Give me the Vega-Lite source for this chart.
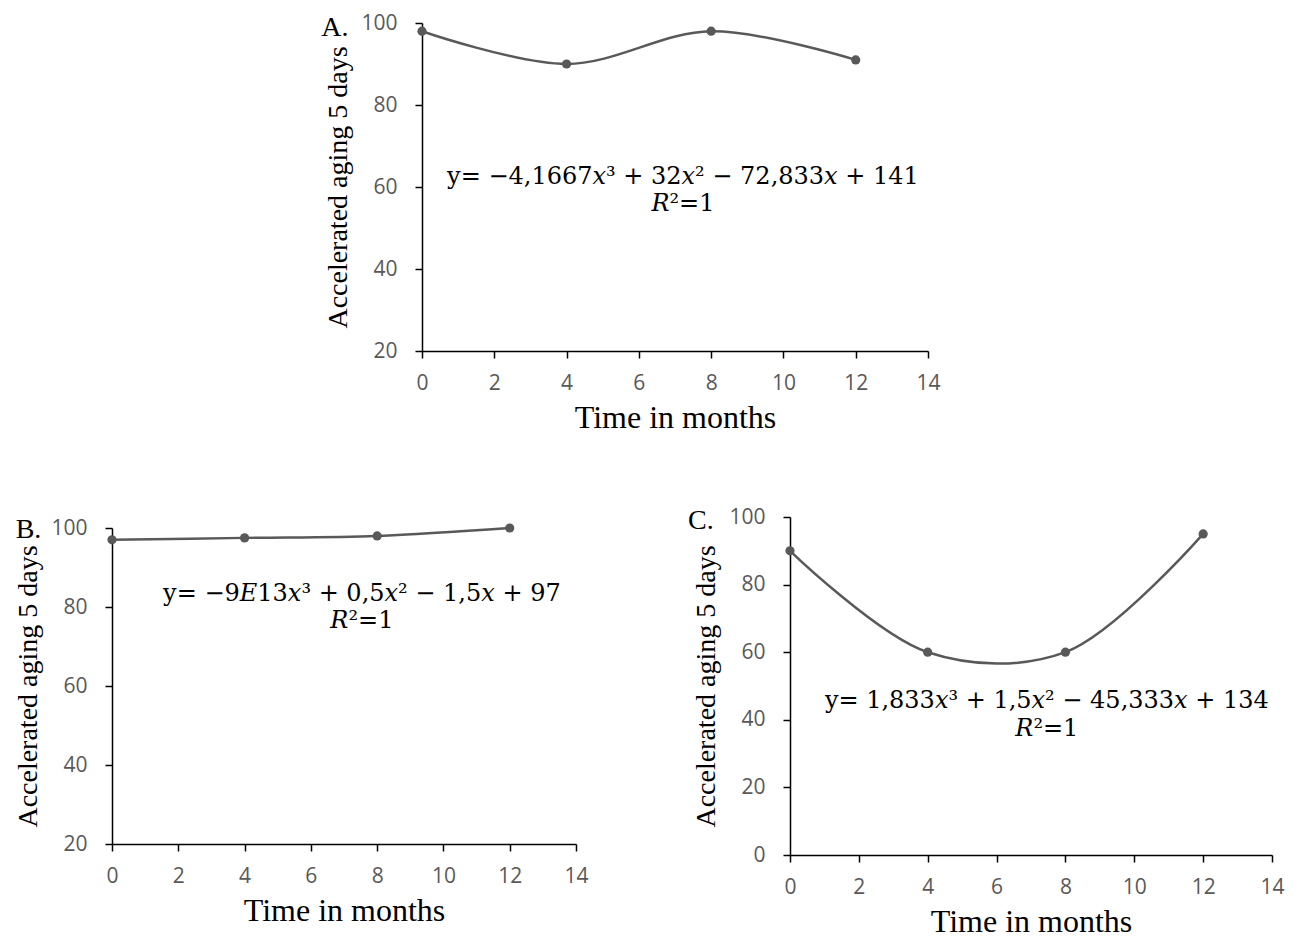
{
  "$schema": "https://vega.github.io/schema/vega-lite/v6.json",
  "padding": {"left": 14, "top": 12, "right": 5, "bottom": 5},
  "background": "white",
  "config": {
    "view": {"stroke": null},
    "axis": {"grid": false, "labelFlush": false, "domainColor": "#000000", "domainWidth": 1.5, "tickColor": "#000000", "tickWidth": 1.5, "tickSize": 7, "labelColor": "#595959", "labelFont": "Open Sans", "labelFontSize": 21, "titleFont": "Liberation Serif", "titleFontWeight": "normal", "titleColor": "#000000"},
    "axisX": {"labelPadding": 14, "titlePadding": 9, "titleFontSize": 32, "labelAngle": 0},
    "axisY": {"labelPadding": 18, "titlePadding": 8, "titleFontSize": 28}
  },
  "datasets": {
    "A": [{"month": 0, "value": 98}, {"month": 4, "value": 90}, {"month": 8, "value": 98}, {"month": 12, "value": 91}],
    "B": [{"month": 0, "value": 97}, {"month": 4, "value": 97.5}, {"month": 8, "value": 98}, {"month": 12, "value": 100}],
    "C": [{"month": 0, "value": 90}, {"month": 4, "value": 60}, {"month": 8, "value": 60}, {"month": 12, "value": 95}]
  },
  "bounds": "flush",
  "spacing": 494,
  "vconcat": [
    {
      "bounds": "flush",
      "spacing": 20,
      "hconcat": [
        {"width": 290, "height": 328, "data": {"values": [{}]}, "mark": {"type": "point", "opacity": 0}, "encoding": {}},
        {
          "width": 506, "height": 328,
          "layer": [
            {"data": {"name": "A"}, "mark": {"type": "line", "interpolate": "catmull-rom", "color": "#595959", "strokeWidth": 2.5},
             "encoding": {
               "x": {"field": "month", "type": "quantitative", "scale": {"domain": [0, 14]}, "axis": {"values": [0, 2, 4, 6, 8, 10, 12, 14], "title": "Time in months"}},
               "y": {"field": "value", "type": "quantitative", "scale": {"domain": [20, 100]}, "axis": {"values": [20, 40, 60, 80, 100], "title": "Accelerated aging 5 days"}}}},
            {"data": {"name": "A"}, "mark": {"type": "point", "filled": true, "size": 85, "color": "#595959", "opacity": 1},
             "encoding": {"x": {"field": "month", "type": "quantitative"}, "y": {"field": "value", "type": "quantitative"}}},
            {"data": {"values": [{"t": "y= −4,1667𝑥³ + 32𝑥² − 72,833𝑥 + 141"}]}, "mark": {"type": "text", "font": "DejaVu Serif", "fontSize": 24, "color": "#000000", "baseline": "middle"},
             "encoding": {"x": {"datum": 7.22, "type": "quantitative"}, "y": {"datum": 62.4, "type": "quantitative"}, "text": {"field": "t"}}},
            {"data": {"values": [{"t": "𝑅²=1"}]}, "mark": {"type": "text", "font": "DejaVu Serif", "fontSize": 24, "color": "#000000", "baseline": "middle"},
             "encoding": {"x": {"datum": 7.22, "type": "quantitative"}, "y": {"datum": 55.9, "type": "quantitative"}, "text": {"field": "t"}}},
            {"data": {"values": [{"t": "A."}]}, "mark": {"type": "text", "font": "Liberation Serif", "fontSize": 28, "color": "#000000", "baseline": "alphabetic"},
             "encoding": {"x": {"datum": -2.41, "type": "quantitative"}, "y": {"datum": 96.8, "type": "quantitative"}, "text": {"field": "t"}}}
          ]
        }
      ]
    },
    {
      "bounds": "flush",
      "spacing": 214,
      "center": true,
      "hconcat": [
        {
          "width": 464, "height": 316,
          "layer": [
            {"data": {"name": "B"}, "mark": {"type": "line", "interpolate": "catmull-rom", "color": "#595959", "strokeWidth": 2.5},
             "encoding": {
               "x": {"field": "month", "type": "quantitative", "scale": {"domain": [0, 14]}, "axis": {"values": [0, 2, 4, 6, 8, 10, 12, 14], "title": "Time in months"}},
               "y": {"field": "value", "type": "quantitative", "scale": {"domain": [20, 100]}, "axis": {"values": [20, 40, 60, 80, 100], "title": "Accelerated aging 5 days"}}}},
            {"data": {"name": "B"}, "mark": {"type": "point", "filled": true, "size": 85, "color": "#595959", "opacity": 1},
             "encoding": {"x": {"field": "month", "type": "quantitative"}, "y": {"field": "value", "type": "quantitative"}}},
            {"data": {"values": [{"t": "y= −9𝐸13𝑥³ + 0,5𝑥² − 1,5𝑥 + 97"}]}, "mark": {"type": "text", "font": "DejaVu Serif", "fontSize": 24, "color": "#000000", "baseline": "middle"},
             "encoding": {"x": {"datum": 7.54, "type": "quantitative"}, "y": {"datum": 83.3, "type": "quantitative"}, "text": {"field": "t"}}},
            {"data": {"values": [{"t": "𝑅²=1"}]}, "mark": {"type": "text", "font": "DejaVu Serif", "fontSize": 24, "color": "#000000", "baseline": "middle"},
             "encoding": {"x": {"datum": 7.54, "type": "quantitative"}, "y": {"datum": 76.4, "type": "quantitative"}, "text": {"field": "t"}}},
            {"data": {"values": [{"t": "B."}]}, "mark": {"type": "text", "font": "Liberation Serif", "fontSize": 28, "color": "#000000", "baseline": "alphabetic"},
             "encoding": {"x": {"datum": -2.52, "type": "quantitative"}, "y": {"datum": 97.5, "type": "quantitative"}, "text": {"field": "t"}}}
          ]
        },
        {
          "width": 482, "height": 338,
          "layer": [
            {"data": {"name": "C"}, "mark": {"type": "line", "interpolate": "catmull-rom", "color": "#595959", "strokeWidth": 2.5},
             "encoding": {
               "x": {"field": "month", "type": "quantitative", "scale": {"domain": [0, 14]}, "axis": {"values": [0, 2, 4, 6, 8, 10, 12, 14], "title": "Time in months"}},
               "y": {"field": "value", "type": "quantitative", "scale": {"domain": [0, 100]}, "axis": {"values": [0, 20, 40, 60, 80, 100], "title": "Accelerated aging 5 days"}}}},
            {"data": {"name": "C"}, "mark": {"type": "point", "filled": true, "size": 85, "color": "#595959", "opacity": 1},
             "encoding": {"x": {"field": "month", "type": "quantitative"}, "y": {"field": "value", "type": "quantitative"}}},
            {"data": {"values": [{"t": "y= 1,833𝑥³ + 1,5𝑥² − 45,333𝑥 + 134"}]}, "mark": {"type": "text", "font": "DejaVu Serif", "fontSize": 24, "color": "#000000", "baseline": "middle"},
             "encoding": {"x": {"datum": 7.46, "type": "quantitative"}, "y": {"datum": 45.6, "type": "quantitative"}, "text": {"field": "t"}}},
            {"data": {"values": [{"t": "𝑅²=1"}]}, "mark": {"type": "text", "font": "DejaVu Serif", "fontSize": 24, "color": "#000000", "baseline": "middle"},
             "encoding": {"x": {"datum": 7.46, "type": "quantitative"}, "y": {"datum": 37.4, "type": "quantitative"}, "text": {"field": "t"}}},
            {"data": {"values": [{"t": "C."}]}, "mark": {"type": "text", "font": "Liberation Serif", "fontSize": 28, "color": "#000000", "baseline": "alphabetic"},
             "encoding": {"x": {"datum": -2.59, "type": "quantitative"}, "y": {"datum": 96.4, "type": "quantitative"}, "text": {"field": "t"}}}
          ]
        }
      ]
    }
  ]
}
